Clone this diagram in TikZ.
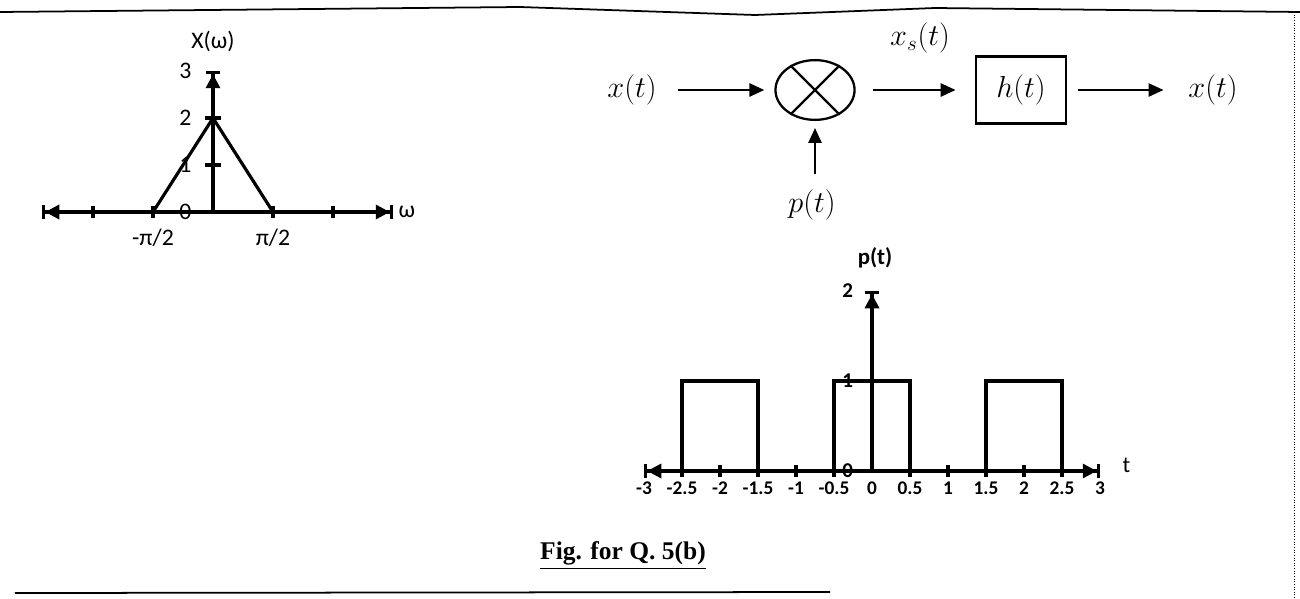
\documentclass[tikz,border=0pt]{standalone}
\usepackage{amsmath}
\usepackage{fontspec}
\usepackage{tikz}
\usetikzlibrary{arrows.meta,shapes.geometric,positioning}
\newfontfamily\plotfont{Carlito}
\newfontfamily\capfont{Liberation Serif}
\tikzset{
  axisline/.style={line width=1.8pt},
  bothtips/.style={arrows={{Bar[width=8pt]Triangle[length=8pt,width=8pt]}-{Triangle[length=8pt,width=8pt]Bar[width=8pt]}}},
  uptip/.style={arrows={-{Triangle[length=8pt,width=8pt]Bar[width=8pt]}}},
  sig/.style={line width=1.3pt, -{Triangle[length=8.5pt,width=7.5pt]}},
  lbl/.style={font=\plotfont\fontsize{13.5}{16}\selectfont, inner sep=1pt},
  plbl/.style={font=\plotfont\bfseries\fontsize{11}{13}\selectfont, inner sep=1pt},
  mlbl/.style={font=\fontsize{16.5}{19}\selectfont, inner sep=1pt},
  mult/.style={ellipse, draw, line width=1.3pt, minimum width=45pt, minimum height=34pt, inner sep=0pt},
  sysbox/.style={draw, line width=1.3pt, minimum width=51.6pt, minimum height=38pt},
}
\begin{document}
\begin{tikzpicture}[x=0.02cm, y=-0.02cm]
  \useasboundingbox (0,0) rectangle (1300,598);
  % frame of the scanned page
  \draw[line width=1pt] (0,12) -- (520,7) -- (755,15) -- (935,8) -- (1300,12);
  \draw[line width=1pt] (15,593) -- (830,592);
  \draw[densely dotted, line width=0.5pt] (1294,12) -- (1294,598);

  % spectrum X(w)
  \begin{scope}[shift={(213,212)}, x=1.2cm, y=0.94cm]
    \draw[axisline, bothtips] (-2.85,0) -- (3,0);
    \draw[axisline, uptip] (0,0) -- (0,3);
    \foreach \i in {-2,-1,1,2} \draw[axisline] (\i,0) ++(0,-3.5pt) -- ++(0,7pt);
    \foreach \j in {1,2} \draw[axisline] (0,\j) ++(-4.5pt,0) -- ++(9pt,0);
    \draw[axisline] (-1,0) -- (0,2) -- (1,0);
    \foreach \j in {0,...,3} \node[lbl] (xv\j) at (-0.46,\j) {\j};
    \node[lbl] (xlab) at (0,3.62) {X(ω)};
    \node[lbl] (wneg) at (-1,-0.55) {-π/2};
    \node[lbl] (wpos) at (1,-0.55) {π/2};
    \node[lbl] (wlab) at (3.23,0) {ω};
  \end{scope}

  % sampling system
  \node[mlbl] (xin) at (632,90) {$x(t)$};
  \node[mult] (mul) at (815,90) {};
  \draw[line width=1.3pt] (mul.45) -- (mul.225) (mul.135) -- (mul.315);
  \node[mlbl, sysbox] (hsys) at (1021,90) {$h(t)$};
  \node[mlbl] (xout) at (1213,90) {$x(t)$};
  \node[mlbl] (pin) at (812,205) {$p(t)$};
  \node[mlbl] (xs) at (920,38) {$x_s(t)$};
  \draw[sig, shorten <=11pt, shorten >=5.7pt] (xin) -- (mul);
  \draw[sig, shorten <=9.6pt, shorten >=10.8pt] (mul) -- (hsys);
  \draw[sig, shorten <=6.2pt, shorten >=13pt] (hsys) -- (xout);
  \draw[sig, shorten <=8pt, shorten >=4pt] (pin.north -| mul) -- (mul);

  % pulse train p(t)
  \begin{scope}[shift={(872,471)}, x=1.52cm, y=1.8cm]
    \draw[axisline, bothtips] (-3,0) -- (3,0);
    \draw[axisline, uptip] (0,0) -- (0,2);
    \foreach \i in {-2.5,-2,-1.5,-1,-0.5,0.5,1,1.5,2,2.5}
      \draw[axisline] (\i,0) ++(0,-3.5pt) -- ++(0,7pt);
    \foreach \a in {-2.5,-0.5,1.5}
      \draw[axisline] (\a,0) -- (\a,1) -- (\a+1,1) -- (\a+1,0);
    \foreach \t [count=\k] in {-3,-2.5,-2,-1.5,-1,-0.5,0,0.5,1,1.5,2,2.5,3}
      \node[plbl] (tl\k) at (\t,-0.19) {\t};
    \foreach \j in {0,1,2} \node[plbl, font=\plotfont\bfseries\fontsize{12}{14}\selectfont] (pv\j) at (-0.32,\j) {\j};
    \node[plbl, font=\plotfont\bfseries\fontsize{13}{15}\selectfont] (plab) at (0.04,2.37) {p(t)};
    \node[lbl, font=\plotfont\fontsize{13}{15}\selectfont] (tlab) at (3.35,0.06) {t};
  \end{scope}

  \node[font=\capfont\bfseries\fontsize{14.5}{17}\selectfont] (cap) at (623,556) {\underline{Fig. for Q. 5(b)}};
\end{tikzpicture}
\end{document}
